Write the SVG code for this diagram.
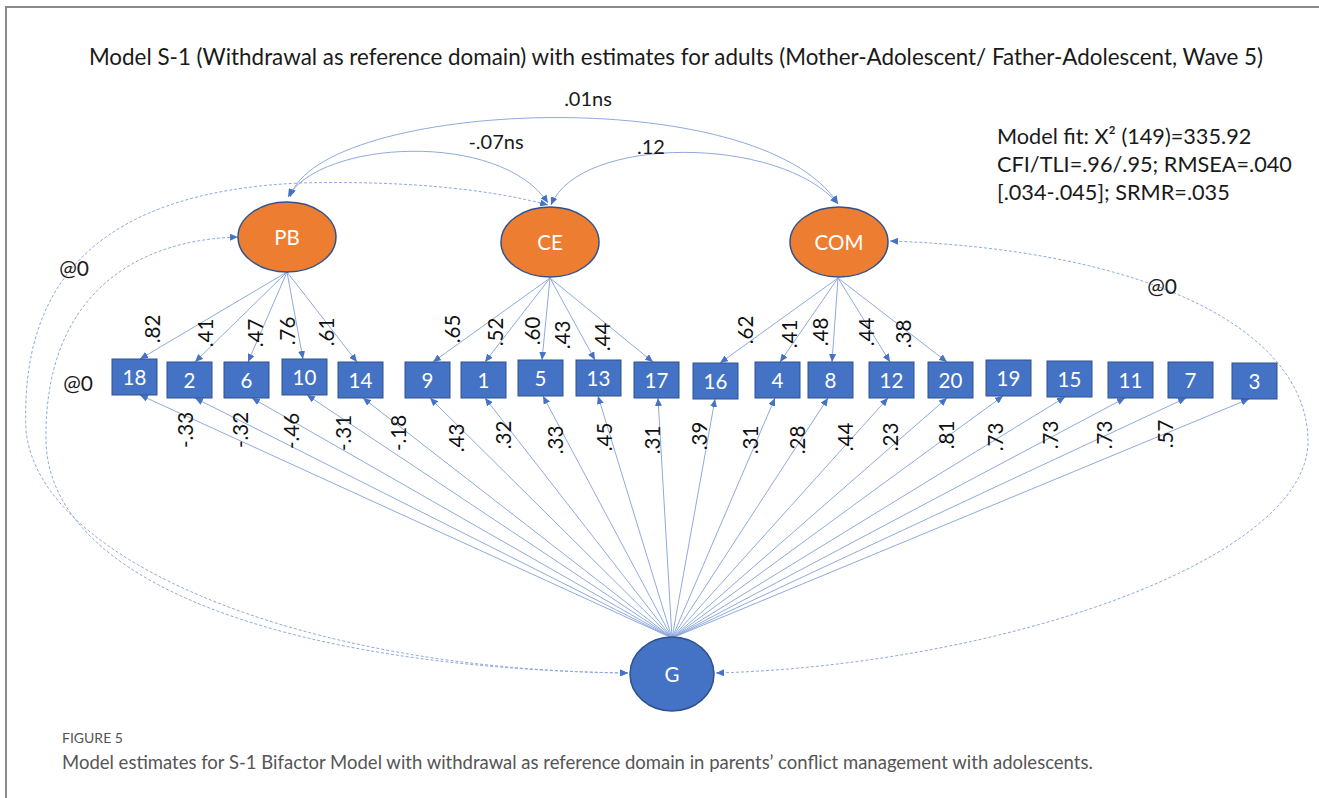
<svg xmlns="http://www.w3.org/2000/svg" width="1319" height="798" viewBox="0 0 1319 798">
<style>
.t{font-family:Lato,"Liberation Sans",sans-serif;fill:#1a1a1a}
.lab{font-family:Lato,"Liberation Sans",sans-serif;font-size:20.5px;fill:#111;text-anchor:middle;dominant-baseline:central}
.box rect{fill:#4472C4;stroke:#2F528F;stroke-width:1}
.box text,.lat text{font-family:Lato,"Liberation Sans",sans-serif;font-size:20.5px;fill:#fff;text-anchor:middle;dominant-baseline:central}
.lat ellipse{stroke:#2F528F;stroke-width:1.5}
.ln{fill:none;stroke:#8FAADC;stroke-width:1}
.ds{fill:none;stroke:#8FAADC;stroke-width:1;stroke-dasharray:3 2}
</style>
<defs>
<marker id="ah" viewBox="0 0 8 7" refX="8" refY="3.5" markerWidth="8" markerHeight="7" markerUnits="userSpaceOnUse" orient="auto-start-reverse">
<path d="M0,0 L8,3.5 L0,7 z" fill="#4472C4"/>
</marker>
</defs>
<rect width="1319" height="798" fill="#fff"/>
<path d="M6,798 V7 H1319" fill="none" stroke="#8a8a8a" stroke-width="2"/>
<text class="t" x="676" y="65" font-size="22.4" text-anchor="middle">Model S-1 (Withdrawal as reference domain) with estimates for adults (Mother-Adolescent/ Father-Adolescent, Wave 5)</text>
<g id="fit" class="t" font-size="21.7">
<text x="997" y="144">Model fit: X² (149)=335.92</text>
<text x="997" y="172">CFI/TLI=.96/.95; RMSEA=.040</text>
<text x="997" y="200">[.034-.045]; SRMR=.035</text>
</g>
<g id="connectors">
<path class="ln" d="M290,197 C320,100 760,80 838,204" marker-start="url(#ah)" marker-end="url(#ah)"/>
<path class="ln" d="M288,197 C320,140 500,130 548,203" marker-start="url(#ah)" marker-end="url(#ah)"/>
<path class="ln" d="M551,205 C580,135 780,135 838,204" marker-start="url(#ah)" marker-end="url(#ah)"/>
<path class="ds" d="M628,673 C300,670 38,560 26,430 C20,280 100,192 300,183 C420,180 500,192 548,205" marker-start="url(#ah)" marker-end="url(#ah)"/>
<path class="ds" d="M628,673 C280,668 48,580 46,440 C44,300 130,240 238,237" marker-start="url(#ah)" marker-end="url(#ah)"/>
<path class="ds" d="M716,673 C1000,665 1310,560 1308,440 C1306,330 1150,250 890,241" marker-start="url(#ah)" marker-end="url(#ah)"/>
<g class="ln" marker-end="url(#ah)">
<line x1="287" y1="272" x2="140" y2="359"/>
<line x1="287" y1="272" x2="195" y2="362"/>
<line x1="287" y1="272" x2="248" y2="362"/>
<line x1="287" y1="272" x2="303" y2="359"/>
<line x1="287" y1="272" x2="357" y2="362"/>
<line x1="550" y1="278" x2="433" y2="362"/>
<line x1="550" y1="278" x2="485" y2="362"/>
<line x1="550" y1="278" x2="542" y2="360"/>
<line x1="550" y1="278" x2="595" y2="360"/>
<line x1="550" y1="278" x2="653" y2="362"/>
<line x1="838" y1="278" x2="720" y2="363"/>
<line x1="838" y1="278" x2="780" y2="362"/>
<line x1="838" y1="278" x2="832" y2="362"/>
<line x1="838" y1="278" x2="890" y2="362"/>
<line x1="838" y1="278" x2="947" y2="362"/>
<line x1="672" y1="638" x2="140" y2="395"/>
<line x1="672" y1="638" x2="195" y2="398"/>
<line x1="672" y1="638" x2="252" y2="398"/>
<line x1="672" y1="638" x2="307" y2="395"/>
<line x1="672" y1="638" x2="363" y2="398"/>
<line x1="672" y1="638" x2="430" y2="398"/>
<line x1="672" y1="638" x2="485" y2="398"/>
<line x1="672" y1="638" x2="543" y2="396"/>
<line x1="672" y1="638" x2="598" y2="396"/>
<line x1="672" y1="638" x2="658" y2="398"/>
<line x1="672" y1="638" x2="715" y2="399"/>
<line x1="672" y1="638" x2="775" y2="398"/>
<line x1="672" y1="638" x2="828" y2="398"/>
<line x1="672" y1="638" x2="888" y2="398"/>
<line x1="672" y1="638" x2="947" y2="398"/>
<line x1="672" y1="638" x2="1003" y2="396"/>
<line x1="672" y1="638" x2="1065" y2="397"/>
<line x1="672" y1="638" x2="1125" y2="398"/>
<line x1="672" y1="638" x2="1186" y2="398"/>
<line x1="672" y1="638" x2="1249" y2="399"/>
</g>
</g>
<g id="conn-labels">
<text class="t" x="588" y="106" font-size="20" text-anchor="middle">.01ns</text>
<text class="t" x="496" y="149" font-size="20" text-anchor="middle">-.07ns</text>
<text class="t" x="651" y="154" font-size="20" text-anchor="middle">.12</text>
<text class="t" x="74" y="276" font-size="21" text-anchor="middle">@0</text>
<text class="t" x="78" y="391" font-size="21" text-anchor="middle">@0</text>
<text class="t" x="1162" y="294" font-size="21" text-anchor="middle">@0</text>
<g class="lab">
<text transform="translate(152,329) rotate(-90)">.82</text>
<text transform="translate(205,333) rotate(-90)">.41</text>
<text transform="translate(255,333) rotate(-90)">.47</text>
<text transform="translate(287,331) rotate(-90)">.76</text>
<text transform="translate(326,332) rotate(-90)">.61</text>
<text transform="translate(452,329) rotate(-90)">.65</text>
<text transform="translate(495,332) rotate(-90)">.52</text>
<text transform="translate(532,331) rotate(-90)">.60</text>
<text transform="translate(562,335) rotate(-90)">.43</text>
<text transform="translate(602,337) rotate(-90)">.44</text>
<text transform="translate(745,330) rotate(-90)">.62</text>
<text transform="translate(789,334) rotate(-90)">.41</text>
<text transform="translate(820,332) rotate(-90)">.48</text>
<text transform="translate(866,332) rotate(-90)">.44</text>
<text transform="translate(903,334) rotate(-90)">.38</text>
<text transform="translate(185,430) rotate(-90)">-.33</text>
<text transform="translate(240,430) rotate(-90)">-.32</text>
<text transform="translate(291,431) rotate(-90)">-.46</text>
<text transform="translate(343,433) rotate(-90)">-.31</text>
<text transform="translate(398,433) rotate(-90)">-.18</text>
<text transform="translate(456,438) rotate(-90)">.43</text>
<text transform="translate(503,435) rotate(-90)">.32</text>
<text transform="translate(555,440) rotate(-90)">.33</text>
<text transform="translate(604,437) rotate(-90)">.45</text>
<text transform="translate(652,440) rotate(-90)">.31</text>
<text transform="translate(699,436) rotate(-90)">.39</text>
<text transform="translate(750,440) rotate(-90)">.31</text>
<text transform="translate(797,440) rotate(-90)">.28</text>
<text transform="translate(845,437) rotate(-90)">.44</text>
<text transform="translate(890,437) rotate(-90)">.23</text>
<text transform="translate(946,435) rotate(-90)">.81</text>
<text transform="translate(995,437) rotate(-90)">.73</text>
<text transform="translate(1050,435) rotate(-90)">.73</text>
<text transform="translate(1104,435) rotate(-90)">.73</text>
<text transform="translate(1165,434) rotate(-90)">.57</text>
</g>
</g>
<g id="PB" class="lat"><ellipse cx="287" cy="237" rx="49" ry="35" fill="#ED7D31"/><text x="287" y="237">PB</text></g>
<g id="CE" class="lat"><ellipse cx="550" cy="242" rx="49" ry="35" fill="#ED7D31"/><text x="550" y="242">CE</text></g>
<g id="COM" class="lat"><ellipse cx="839" cy="242" rx="49" ry="35" fill="#ED7D31"/><text x="839" y="242">COM</text></g>
<g id="G" class="lat"><ellipse cx="672" cy="674" rx="42" ry="37" fill="#4472C4"/><text x="672" y="674">G</text></g>
<g id="b18" class="box"><rect x="112" y="359" width="45" height="36"/><text x="134.5" y="377">18</text></g>
<g id="b2" class="box"><rect x="167" y="362" width="45" height="36"/><text x="189.5" y="380">2</text></g>
<g id="b6" class="box"><rect x="224" y="362" width="45" height="36"/><text x="246.5" y="380">6</text></g>
<g id="b10" class="box"><rect x="282" y="359" width="45" height="36"/><text x="304.5" y="377">10</text></g>
<g id="b14" class="box"><rect x="338" y="362" width="45" height="36"/><text x="360.5" y="380">14</text></g>
<g id="b9" class="box"><rect x="405" y="362" width="45" height="36"/><text x="427.5" y="380">9</text></g>
<g id="b1" class="box"><rect x="461" y="362" width="45" height="36"/><text x="483.5" y="380">1</text></g>
<g id="b5" class="box"><rect x="518" y="360" width="45" height="36"/><text x="540.5" y="378">5</text></g>
<g id="b13" class="box"><rect x="576" y="360" width="45" height="36"/><text x="598.5" y="378">13</text></g>
<g id="b17" class="box"><rect x="634" y="362" width="45" height="36"/><text x="656.5" y="380">17</text></g>
<g id="b16" class="box"><rect x="693" y="363" width="45" height="36"/><text x="715.5" y="381">16</text></g>
<g id="b4" class="box"><rect x="755" y="362" width="45" height="36"/><text x="777.5" y="380">4</text></g>
<g id="b8" class="box"><rect x="808" y="362" width="45" height="36"/><text x="830.5" y="380">8</text></g>
<g id="b12" class="box"><rect x="869" y="362" width="45" height="36"/><text x="891.5" y="380">12</text></g>
<g id="b20" class="box"><rect x="928" y="362" width="45" height="36"/><text x="950.5" y="380">20</text></g>
<g id="b19" class="box"><rect x="986" y="360" width="45" height="36"/><text x="1008.5" y="378">19</text></g>
<g id="b15" class="box"><rect x="1047" y="361" width="45" height="36"/><text x="1069.5" y="379">15</text></g>
<g id="b11" class="box"><rect x="1108" y="362" width="45" height="36"/><text x="1130.5" y="380">11</text></g>
<g id="b7" class="box"><rect x="1168" y="362" width="45" height="36"/><text x="1190.5" y="380">7</text></g>
<g id="b3" class="box"><rect x="1232" y="363" width="45" height="36"/><text x="1254.5" y="381">3</text></g>
<g id="caption">
<text x="62" y="743" font-family="Lato,'Liberation Sans',sans-serif" font-size="14" fill="#555">FIGURE 5</text>
<text x="62" y="769" font-family="Lato,'Liberation Sans',sans-serif" font-size="18.5" fill="#555">Model estimates for S-1 Bifactor Model with withdrawal as reference domain in parents’ conflict management with adolescents.</text>
</g>
</svg>
